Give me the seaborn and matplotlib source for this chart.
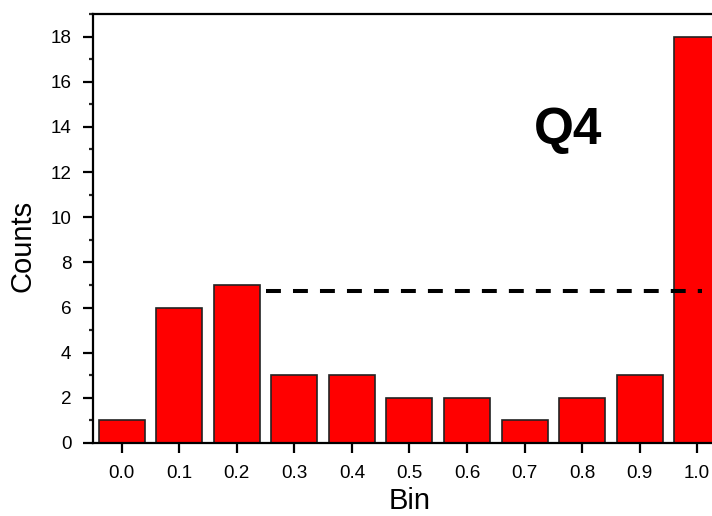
import pandas as pd
import seaborn as sns
import matplotlib.pyplot as plt
from matplotlib.ticker import MultipleLocator

# Bin labels and counts
bins = ["0.0", "0.1", "0.2", "0.3", "0.4", "0.5", "0.6", "0.7", "0.8", "0.9", "1.0"]
counts = [1, 6, 7, 3, 3, 2, 2, 1, 2, 3, 18]

# Dashed reference level and panel tag
ref_level = 6.75
panel_tag = "Q4"

df = pd.DataFrame({"Bin": bins, "Counts": counts})

sns.set_theme(style="ticks")
plt.rcParams["font.family"] = ["Liberation Sans", "DejaVu Sans"]
plt.rcParams["text.color"] = "black"
plt.rcParams["axes.labelcolor"] = "black"

fig = plt.figure(figsize=(7.12, 5.16), dpi=100)
ax = fig.add_axes([0.1306, 0.1415, 0.889, 0.8314])

sns.barplot(data=df, x="Bin", y="Counts", color="#ff0000", saturation=1,
            edgecolor="#222222", linewidth=1.2, width=0.8, ax=ax)

# dashed line from the right edge of the 0.2 bar to the last bin
ax.plot([2.5, 10.09], [ref_level, ref_level], color="black", lw=2.9,
        linestyle=(0, (3.7, 3.0)), zorder=5)

ax.text(7.76, 13.85, panel_tag, fontsize=37, fontweight="bold",
        color="black", ha="center", va="center")

ax.set_xlim(-0.5, 10.5)
ax.set_ylim(0, 19)
ax.yaxis.set_major_locator(MultipleLocator(2))
ax.yaxis.set_minor_locator(MultipleLocator(1))

for side in ["top", "right", "left", "bottom"]:
    ax.spines[side].set_visible(True)
    ax.spines[side].set_linewidth(1.6)
    ax.spines[side].set_color("black")

ax.tick_params(axis="both", which="major", length=7.5, width=1.6,
               labelsize=13.6, pad=8, colors="black")
ax.tick_params(axis="y", which="minor", length=3, width=1.6)
ax.tick_params(axis="x", which="minor", bottom=False)

ax.set_xlabel("Bin", fontsize=21, labelpad=4)
ax.set_ylabel("Counts", fontsize=21)
ax.yaxis.set_label_coords(-0.0885, 0.459)

plt.savefig("out.png", dpi=100)
plt.close()
